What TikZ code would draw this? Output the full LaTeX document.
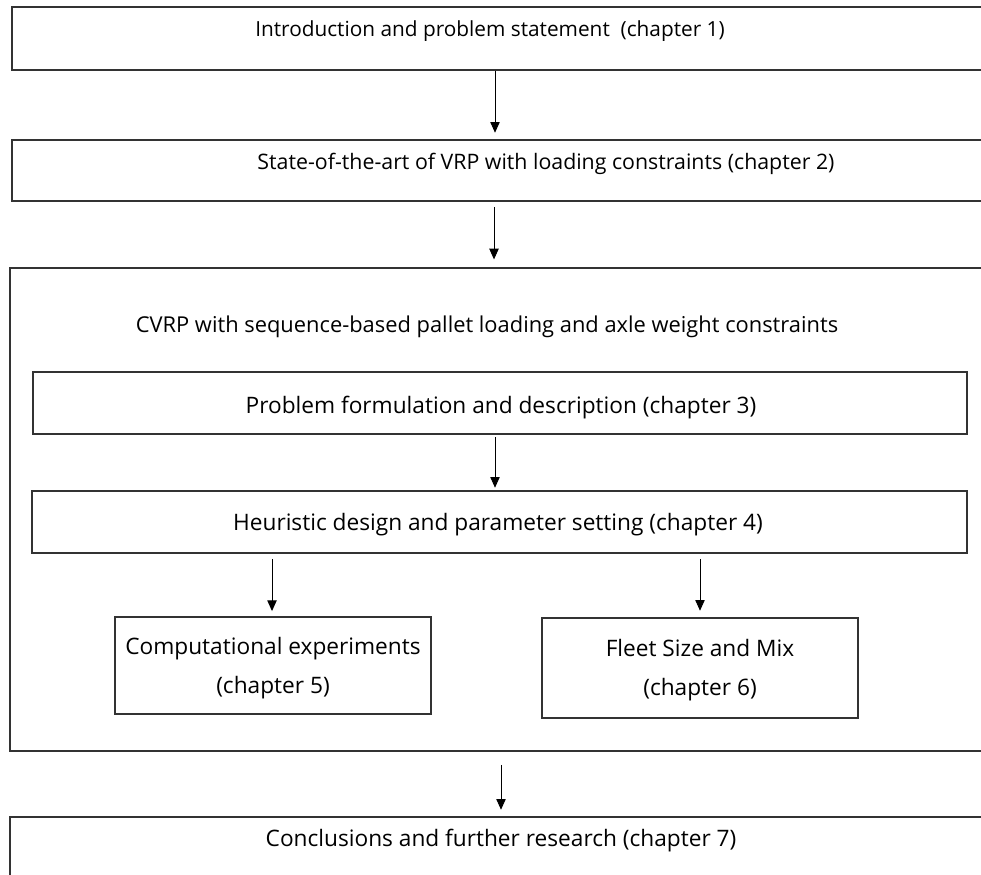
\documentclass[tikz,border=0pt]{standalone}
\usepackage{fontspec}
\setmainfont{Open Sans}
\usepackage{tikz}
\usetikzlibrary{
    arrows.meta,
    fit
}
\tikzset
{
  chapbox/.style={draw=black!80,line width=0.9pt,inner sep=0pt},
  chaptext/.style={font=\fontsize{17}{29}\selectfont,inner sep=0pt,align=center},
  flowarrow/.style={draw=black,line width=0.7pt,-{Triangle[length=8pt,width=7pt]}}
}

\begin{document}
\begin{tikzpicture}[x=0.75pt,y=-0.75pt]
        \useasboundingbox (0,0) rectangle (981,874);
        \clip (0,0) rectangle (981,874);

        % Draw outer boxes
        \node[chapbox,fit={(12,7) (995,70)}] (intro) {};
        \node[chapbox,fit={(12,140) (995,201)}] (state) {};
        \node[chapbox,fit={(10,268) (995,751)}] (cvrp) {};
        \node[chapbox,fit={(10,817) (995,890)}] (concl) {};

        % Draw inner boxes
        \node[chapbox,fit={(33,372) (967,434)}] (formul) {};
        \node[chapbox,fit={(32,491) (967,553)}] (heur) {};
        \node[chapbox,fit={(115,617) (431,714)}] (comp) {};
        \node[chapbox,fit={(542,618) (858,718)}] (fleet) {};

        % Texts
        \node[chaptext,font=\fontsize{15.6}{20}\selectfont] (introtext) at (490,31) {Introduction and problem statement \ (chapter 1)};
        \node[chaptext,font=\fontsize{16}{20}\selectfont] (statetext) at (546,164) {State-of-the-art of VRP with loading constraints (chapter 2)};
        \node[chaptext,font=\fontsize{16.4}{20}\selectfont] (cvrptext) at (487,327) {CVRP with sequence-based pallet loading and axle weight constraints};
        \node[chaptext] (formultext) at (501,408) {Problem formulation and description (chapter 3)};
        \node[chaptext] (heurtext) at (498,525) {Heuristic design and parameter setting (chapter 4)};
        \node[chaptext] (comptext) at (273,668) {Computational experiments\\(chapter 5)};
        \node[chaptext] (fleettext) at (700,670) {Fleet Size and Mix\\(chapter 6)};
        \node[chaptext] (concltext) at (501,841) {Conclusions and further research (chapter 7)};

        % Draw arrows
        \draw[flowarrow] (495,0 |- intro.south) -- ([yshift=5pt]495,0 |- state.north);
        \draw[flowarrow] ([yshift=-4pt]494,0 |- state.south) -- ([yshift=6pt]494,0 |- cvrp.north);
        \draw[flowarrow] ([yshift=-2pt]495,0 |- formul.south) -- ([yshift=2pt]495,0 |- heur.north);
        \draw[flowarrow] ([yshift=-4pt]272,0 |- heur.south) -- ([yshift=4pt]272,0 |- comp.north);
        \draw[flowarrow] ([yshift=-4pt]700,0 |- heur.south) -- ([yshift=5pt]700,0 |- fleet.north);
        \draw[flowarrow] ([yshift=-10pt]501,0 |- cvrp.south) -- ([yshift=5pt]501,0 |- concl.north);
\end{tikzpicture}
\end{document}
